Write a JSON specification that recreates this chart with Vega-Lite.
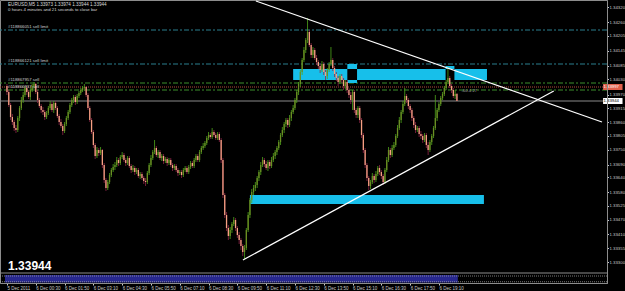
{
"$schema":"https://vega.github.io/schema/vega-lite/v6.json",
"width":607,"height":283,
"autosize":{"type":"none"},
"padding":{"left":0,"top":0,"right":18,"bottom":8},
"background":"#000000",
"config":{"view":{"stroke":"#8c8c8c","strokeWidth":1},"font":"Liberation Sans","axis":{"grid":false,"labelOverlap":false,"labelSeparation":0,"labelBound":false}},
"datasets":{
"panel":[{"x1":-1.093,"x2":250.5,"p1":1.33248,"p2":1.33218}],
"levels":[
{"kind":"sell limit","name":"#118866051 sell limit","p":1.34228},
{"kind":"sell limit","name":"#118866121 sell limit","p":1.34092},
{"kind":"sell","name":"#118867957 sell","p":1.34016},
{"kind":"sell","name":"#118866937 sell","p":1.33988},
{"kind":"ask","name":"","p":1.34000},
{"kind":"bid","name":"","p":1.33944},
{"kind":"sep","name":"","p":1.33256},
{"kind":"osc","name":"","p":1.33244},
{"kind":"osc","name":"","p":1.33221}
],
"zones":[
{"x1":159.0,"x2":189.1,"p1":1.34072,"p2":1.34028},
{"x1":189.1,"x2":194.5,"p1":1.34092,"p2":1.34072},
{"x1":189.1,"x2":194.5,"p1":1.34028,"p2":1.34016},
{"x1":194.5,"x2":243.7,"p1":1.34072,"p2":1.34028},
{"x1":243.7,"x2":248.6,"p1":1.34084,"p2":1.34072},
{"x1":248.6,"x2":266.7,"p1":1.34072,"p2":1.34028},
{"x1":135.0,"x2":265.0,"p1":1.33568,"p2":1.33532}
],
"trend":[
{"line":"down","i":138.3,"p":1.34344},{"line":"down","i":330.6,"p":1.33860},
{"line":"up","i":131.1,"p":1.33308},{"line":"up","i":303.8,"p":1.33984}
],
"tags":[
{"t":"1.33944","p":1.33944,"top":1.33956,"bot":1.33932,"kind":"bid"},
{"t":"1.33997","p":1.34000,"top":1.34012,"bot":1.33988,"kind":"ask"}
],
"candles":[
{"i":0,"o":1.34004,"h":1.34012,"l":1.33968,"c":1.3398},
{"i":1,"o":1.3398,"h":1.33988,"l":1.3392,"c":1.33928},
{"i":2,"o":1.33928,"h":1.33936,"l":1.33868,"c":1.3388},
{"i":3,"o":1.3388,"h":1.33892,"l":1.33848,"c":1.3386},
{"i":4,"o":1.3386,"h":1.33868,"l":1.33824,"c":1.33836},
{"i":5,"o":1.33836,"h":1.33848,"l":1.33816,"c":1.33828},
{"i":6,"o":1.33828,"h":1.33884,"l":1.3382,"c":1.33876},
{"i":7,"o":1.33876,"h":1.33924,"l":1.33864,"c":1.33916},
{"i":8,"o":1.33916,"h":1.3396,"l":1.33908,"c":1.33948},
{"i":9,"o":1.33948,"h":1.3398,"l":1.33936,"c":1.33968},
{"i":10,"o":1.33968,"h":1.34004,"l":1.3396,"c":1.33996},
{"i":11,"o":1.33996,"h":1.34004,"l":1.33968,"c":1.3398},
{"i":12,"o":1.3398,"h":1.33988,"l":1.33952,"c":1.3396},
{"i":13,"o":1.3396,"h":1.33996,"l":1.33948,"c":1.33988},
{"i":14,"o":1.33988,"h":1.34012,"l":1.3398,"c":1.34004},
{"i":15,"o":1.34004,"h":1.3402,"l":1.33992,"c":1.34012},
{"i":16,"o":1.34012,"h":1.34016,"l":1.33972,"c":1.3398},
{"i":17,"o":1.3398,"h":1.33988,"l":1.33936,"c":1.33948},
{"i":18,"o":1.33948,"h":1.33956,"l":1.33916,"c":1.33924},
{"i":19,"o":1.33924,"h":1.33932,"l":1.33896,"c":1.33908},
{"i":20,"o":1.33908,"h":1.3392,"l":1.33888,"c":1.339},
{"i":21,"o":1.339,"h":1.33908,"l":1.33868,"c":1.3388},
{"i":22,"o":1.3388,"h":1.33904,"l":1.33872,"c":1.33896},
{"i":23,"o":1.33896,"h":1.33924,"l":1.33888,"c":1.33916},
{"i":24,"o":1.33916,"h":1.33944,"l":1.33908,"c":1.33932},
{"i":25,"o":1.33932,"h":1.3394,"l":1.339,"c":1.33908},
{"i":26,"o":1.33908,"h":1.33944,"l":1.33896,"c":1.33936},
{"i":27,"o":1.33936,"h":1.33944,"l":1.33908,"c":1.33916},
{"i":28,"o":1.33916,"h":1.33924,"l":1.33876,"c":1.33884},
{"i":29,"o":1.33884,"h":1.33892,"l":1.33848,"c":1.3386},
{"i":30,"o":1.3386,"h":1.33872,"l":1.33836,"c":1.33844},
{"i":31,"o":1.33844,"h":1.33852,"l":1.33808,"c":1.33824},
{"i":32,"o":1.33824,"h":1.3386,"l":1.33816,"c":1.33852},
{"i":33,"o":1.33852,"h":1.33884,"l":1.33844,"c":1.33876},
{"i":34,"o":1.33876,"h":1.33908,"l":1.33868,"c":1.339},
{"i":35,"o":1.339,"h":1.33936,"l":1.33892,"c":1.33928},
{"i":36,"o":1.33928,"h":1.33956,"l":1.3392,"c":1.33948},
{"i":37,"o":1.33948,"h":1.33968,"l":1.33936,"c":1.3396},
{"i":38,"o":1.3396,"h":1.33968,"l":1.33928,"c":1.3394},
{"i":39,"o":1.3394,"h":1.33972,"l":1.33932,"c":1.33964},
{"i":40,"o":1.33964,"h":1.33984,"l":1.33956,"c":1.33976},
{"i":41,"o":1.33976,"h":1.33996,"l":1.33968,"c":1.33988},
{"i":42,"o":1.33988,"h":1.34004,"l":1.3398,"c":1.33996},
{"i":43,"o":1.33996,"h":1.34012,"l":1.33984,"c":1.34},
{"i":44,"o":1.34,"h":1.34004,"l":1.3396,"c":1.33968},
{"i":45,"o":1.33968,"h":1.33976,"l":1.33908,"c":1.33916},
{"i":46,"o":1.33916,"h":1.33924,"l":1.3386,"c":1.33868},
{"i":47,"o":1.33868,"h":1.33876,"l":1.33812,"c":1.3382},
{"i":48,"o":1.3382,"h":1.33828,"l":1.33756,"c":1.33768},
{"i":49,"o":1.33768,"h":1.33776,"l":1.33712,"c":1.33724},
{"i":50,"o":1.33724,"h":1.3376,"l":1.33716,"c":1.33748},
{"i":51,"o":1.33748,"h":1.33756,"l":1.33724,"c":1.33736},
{"i":52,"o":1.33736,"h":1.3376,"l":1.33728,"c":1.33748},
{"i":53,"o":1.33748,"h":1.33752,"l":1.33676,"c":1.33688},
{"i":54,"o":1.33688,"h":1.33696,"l":1.33616,"c":1.33628},
{"i":55,"o":1.33628,"h":1.33636,"l":1.33584,"c":1.33596},
{"i":56,"o":1.33596,"h":1.33628,"l":1.33588,"c":1.3362},
{"i":57,"o":1.3362,"h":1.33656,"l":1.33612,"c":1.33648},
{"i":58,"o":1.33648,"h":1.33676,"l":1.3364,"c":1.33668},
{"i":59,"o":1.33668,"h":1.33692,"l":1.3366,"c":1.3368},
{"i":60,"o":1.3368,"h":1.337,"l":1.33668,"c":1.33688},
{"i":61,"o":1.33688,"h":1.3372,"l":1.3368,"c":1.33708},
{"i":62,"o":1.33708,"h":1.33716,"l":1.33684,"c":1.33696},
{"i":63,"o":1.33696,"h":1.33728,"l":1.33688,"c":1.3372},
{"i":64,"o":1.3372,"h":1.3374,"l":1.33712,"c":1.33728},
{"i":65,"o":1.33728,"h":1.33736,"l":1.337,"c":1.33708},
{"i":66,"o":1.33708,"h":1.33716,"l":1.33684,"c":1.33696},
{"i":67,"o":1.33696,"h":1.33724,"l":1.33688,"c":1.33716},
{"i":68,"o":1.33716,"h":1.33724,"l":1.33676,"c":1.33684},
{"i":69,"o":1.33684,"h":1.33692,"l":1.33656,"c":1.33668},
{"i":70,"o":1.33668,"h":1.33688,"l":1.3366,"c":1.33676},
{"i":71,"o":1.33676,"h":1.33684,"l":1.33648,"c":1.3366},
{"i":72,"o":1.3366,"h":1.33676,"l":1.33652,"c":1.33668},
{"i":73,"o":1.33668,"h":1.33676,"l":1.33636,"c":1.33644},
{"i":74,"o":1.33644,"h":1.3366,"l":1.33632,"c":1.33652},
{"i":75,"o":1.33652,"h":1.3366,"l":1.33628,"c":1.33636},
{"i":76,"o":1.33636,"h":1.33644,"l":1.33612,"c":1.33624},
{"i":77,"o":1.33624,"h":1.33636,"l":1.33604,"c":1.3362},
{"i":78,"o":1.3362,"h":1.33664,"l":1.33612,"c":1.33656},
{"i":79,"o":1.33656,"h":1.33696,"l":1.33648,"c":1.33688},
{"i":80,"o":1.33688,"h":1.33728,"l":1.3368,"c":1.33716},
{"i":81,"o":1.33716,"h":1.33748,"l":1.33708,"c":1.3374},
{"i":82,"o":1.3374,"h":1.33788,"l":1.33732,"c":1.33756},
{"i":83,"o":1.33756,"h":1.33764,"l":1.3372,"c":1.33728},
{"i":84,"o":1.33728,"h":1.33748,"l":1.33716,"c":1.3374},
{"i":85,"o":1.3374,"h":1.33748,"l":1.33708,"c":1.33716},
{"i":86,"o":1.33716,"h":1.33732,"l":1.33704,"c":1.33724},
{"i":87,"o":1.33724,"h":1.33732,"l":1.33692,"c":1.33704},
{"i":88,"o":1.33704,"h":1.3372,"l":1.33696,"c":1.33712},
{"i":89,"o":1.33712,"h":1.3372,"l":1.33684,"c":1.33696},
{"i":90,"o":1.33696,"h":1.33716,"l":1.33688,"c":1.33708},
{"i":91,"o":1.33708,"h":1.33716,"l":1.3368,"c":1.33688},
{"i":92,"o":1.33688,"h":1.33696,"l":1.33664,"c":1.33676},
{"i":93,"o":1.33676,"h":1.33692,"l":1.33668,"c":1.33684},
{"i":94,"o":1.33684,"h":1.33692,"l":1.3366,"c":1.33668},
{"i":95,"o":1.33668,"h":1.33676,"l":1.33644,"c":1.33656},
{"i":96,"o":1.33656,"h":1.33668,"l":1.33648,"c":1.3366},
{"i":97,"o":1.3366,"h":1.33668,"l":1.33636,"c":1.33648},
{"i":98,"o":1.33648,"h":1.33676,"l":1.3364,"c":1.33668},
{"i":99,"o":1.33668,"h":1.33684,"l":1.3366,"c":1.33676},
{"i":100,"o":1.33676,"h":1.33684,"l":1.33652,"c":1.3366},
{"i":101,"o":1.3366,"h":1.33688,"l":1.33652,"c":1.3368},
{"i":102,"o":1.3368,"h":1.33704,"l":1.33672,"c":1.33696},
{"i":103,"o":1.33696,"h":1.33704,"l":1.33676,"c":1.33684},
{"i":104,"o":1.33684,"h":1.33716,"l":1.33676,"c":1.33708},
{"i":105,"o":1.33708,"h":1.33732,"l":1.337,"c":1.33724},
{"i":106,"o":1.33724,"h":1.33732,"l":1.337,"c":1.33708},
{"i":107,"o":1.33708,"h":1.33748,"l":1.337,"c":1.3374},
{"i":108,"o":1.3374,"h":1.33764,"l":1.33732,"c":1.33756},
{"i":109,"o":1.33756,"h":1.33776,"l":1.33748,"c":1.33764},
{"i":110,"o":1.33764,"h":1.33784,"l":1.33756,"c":1.33776},
{"i":111,"o":1.33776,"h":1.33804,"l":1.33768,"c":1.33796},
{"i":112,"o":1.33796,"h":1.3382,"l":1.33788,"c":1.33808},
{"i":113,"o":1.33808,"h":1.33816,"l":1.33792,"c":1.338},
{"i":114,"o":1.338,"h":1.33836,"l":1.33792,"c":1.3382},
{"i":115,"o":1.3382,"h":1.33828,"l":1.338,"c":1.33808},
{"i":116,"o":1.33808,"h":1.33816,"l":1.33788,"c":1.33796},
{"i":117,"o":1.33796,"h":1.3382,"l":1.33788,"c":1.33812},
{"i":118,"o":1.33812,"h":1.3382,"l":1.3378,"c":1.33788},
{"i":119,"o":1.33788,"h":1.33796,"l":1.33696,"c":1.33708},
{"i":120,"o":1.33708,"h":1.33716,"l":1.33556,"c":1.33568},
{"i":121,"o":1.33568,"h":1.33576,"l":1.33476,"c":1.33488},
{"i":122,"o":1.33488,"h":1.335,"l":1.33424,"c":1.33436},
{"i":123,"o":1.33436,"h":1.33448,"l":1.33388,"c":1.33404},
{"i":124,"o":1.33404,"h":1.3344,"l":1.33392,"c":1.33428},
{"i":125,"o":1.33428,"h":1.3346,"l":1.33416,"c":1.33452},
{"i":126,"o":1.33452,"h":1.3348,"l":1.33444,"c":1.33468},
{"i":127,"o":1.33468,"h":1.33476,"l":1.33424,"c":1.33436},
{"i":128,"o":1.33436,"h":1.33444,"l":1.33396,"c":1.33408},
{"i":129,"o":1.33408,"h":1.3342,"l":1.33372,"c":1.33388},
{"i":130,"o":1.33388,"h":1.33396,"l":1.33348,"c":1.33364},
{"i":131,"o":1.33364,"h":1.33372,"l":1.33324,"c":1.3334},
{"i":132,"o":1.3334,"h":1.33368,"l":1.33312,"c":1.33356},
{"i":133,"o":1.33356,"h":1.33436,"l":1.33348,"c":1.33428},
{"i":134,"o":1.33428,"h":1.335,"l":1.3342,"c":1.33488},
{"i":135,"o":1.33488,"h":1.33556,"l":1.33476,"c":1.33548},
{"i":136,"o":1.33548,"h":1.33592,"l":1.33536,"c":1.3358},
{"i":137,"o":1.3358,"h":1.33608,"l":1.33568,"c":1.33596},
{"i":138,"o":1.33596,"h":1.3362,"l":1.33584,"c":1.33608},
{"i":139,"o":1.33608,"h":1.33644,"l":1.33596,"c":1.33636},
{"i":140,"o":1.33636,"h":1.33668,"l":1.33624,"c":1.3366},
{"i":141,"o":1.3366,"h":1.337,"l":1.33648,"c":1.33688},
{"i":142,"o":1.33688,"h":1.3372,"l":1.3368,"c":1.33708},
{"i":143,"o":1.33708,"h":1.33716,"l":1.3368,"c":1.33692},
{"i":144,"o":1.33692,"h":1.33704,"l":1.33668,"c":1.33676},
{"i":145,"o":1.33676,"h":1.33708,"l":1.33664,"c":1.337},
{"i":146,"o":1.337,"h":1.33708,"l":1.33672,"c":1.33684},
{"i":147,"o":1.33684,"h":1.3372,"l":1.33676,"c":1.33708},
{"i":148,"o":1.33708,"h":1.33736,"l":1.337,"c":1.33724},
{"i":149,"o":1.33724,"h":1.33748,"l":1.33712,"c":1.3374},
{"i":150,"o":1.3374,"h":1.33764,"l":1.33728,"c":1.33756},
{"i":151,"o":1.33756,"h":1.33788,"l":1.33748,"c":1.3378},
{"i":152,"o":1.3378,"h":1.33816,"l":1.33768,"c":1.33808},
{"i":153,"o":1.33808,"h":1.3384,"l":1.338,"c":1.33828},
{"i":154,"o":1.33828,"h":1.3386,"l":1.33816,"c":1.33852},
{"i":155,"o":1.33852,"h":1.33876,"l":1.3384,"c":1.33868},
{"i":156,"o":1.33868,"h":1.33876,"l":1.33836,"c":1.33848},
{"i":157,"o":1.33848,"h":1.33888,"l":1.3384,"c":1.33876},
{"i":158,"o":1.33876,"h":1.33908,"l":1.33864,"c":1.339},
{"i":159,"o":1.339,"h":1.33928,"l":1.33892,"c":1.33916},
{"i":160,"o":1.33916,"h":1.33956,"l":1.33908,"c":1.33948},
{"i":161,"o":1.33948,"h":1.33988,"l":1.33936,"c":1.3398},
{"i":162,"o":1.3398,"h":1.3402,"l":1.33968,"c":1.34012},
{"i":163,"o":1.34012,"h":1.34068,"l":1.34,"c":1.3406},
{"i":164,"o":1.3406,"h":1.34116,"l":1.34048,"c":1.34108},
{"i":165,"o":1.34108,"h":1.3416,"l":1.341,"c":1.34148},
{"i":166,"o":1.34148,"h":1.34196,"l":1.34136,"c":1.34188},
{"i":167,"o":1.34188,"h":1.34276,"l":1.34176,"c":1.3422},
{"i":168,"o":1.3422,"h":1.34228,"l":1.3416,"c":1.34168},
{"i":169,"o":1.34168,"h":1.34176,"l":1.34116,"c":1.34128},
{"i":170,"o":1.34128,"h":1.3416,"l":1.34116,"c":1.34148},
{"i":171,"o":1.34148,"h":1.34156,"l":1.34108,"c":1.34116},
{"i":172,"o":1.34116,"h":1.34128,"l":1.34088,"c":1.341},
{"i":173,"o":1.341,"h":1.34108,"l":1.34072,"c":1.34084},
{"i":174,"o":1.34084,"h":1.34092,"l":1.34056,"c":1.34068},
{"i":175,"o":1.34068,"h":1.34104,"l":1.3406,"c":1.34092},
{"i":176,"o":1.34092,"h":1.341,"l":1.34048,"c":1.3406},
{"i":177,"o":1.3406,"h":1.34068,"l":1.34028,"c":1.34044},
{"i":178,"o":1.34044,"h":1.34076,"l":1.34032,"c":1.34068},
{"i":179,"o":1.34068,"h":1.341,"l":1.3406,"c":1.34092},
{"i":180,"o":1.34092,"h":1.3416,"l":1.34084,"c":1.34108},
{"i":181,"o":1.34108,"h":1.34116,"l":1.34064,"c":1.34076},
{"i":182,"o":1.34076,"h":1.34084,"l":1.3404,"c":1.34052},
{"i":183,"o":1.34052,"h":1.3406,"l":1.34024,"c":1.34036},
{"i":184,"o":1.34036,"h":1.34044,"l":1.34004,"c":1.3402},
{"i":185,"o":1.3402,"h":1.34052,"l":1.34012,"c":1.34044},
{"i":186,"o":1.34044,"h":1.34052,"l":1.34016,"c":1.34028},
{"i":187,"o":1.34028,"h":1.34036,"l":1.33988,"c":1.34004},
{"i":188,"o":1.34004,"h":1.34028,"l":1.33992,"c":1.3402},
{"i":189,"o":1.3402,"h":1.34028,"l":1.33976,"c":1.33988},
{"i":190,"o":1.33988,"h":1.33996,"l":1.33956,"c":1.33968},
{"i":191,"o":1.33968,"h":1.3398,"l":1.33932,"c":1.33948},
{"i":192,"o":1.33948,"h":1.33988,"l":1.33908,"c":1.3398},
{"i":193,"o":1.3398,"h":1.33988,"l":1.33896,"c":1.33908},
{"i":194,"o":1.33908,"h":1.33916,"l":1.33876,"c":1.33888},
{"i":195,"o":1.33888,"h":1.33924,"l":1.33876,"c":1.33916},
{"i":196,"o":1.33916,"h":1.33924,"l":1.33856,"c":1.33868},
{"i":197,"o":1.33868,"h":1.33876,"l":1.33796,"c":1.33808},
{"i":198,"o":1.33808,"h":1.33816,"l":1.33736,"c":1.33748},
{"i":199,"o":1.33748,"h":1.33756,"l":1.33676,"c":1.33688},
{"i":200,"o":1.33688,"h":1.33696,"l":1.33624,"c":1.33636},
{"i":201,"o":1.33636,"h":1.33644,"l":1.33588,"c":1.33604},
{"i":202,"o":1.33604,"h":1.33628,"l":1.33592,"c":1.3362},
{"i":203,"o":1.3362,"h":1.33656,"l":1.33612,"c":1.33644},
{"i":204,"o":1.33644,"h":1.33652,"l":1.33616,"c":1.33628},
{"i":205,"o":1.33628,"h":1.33664,"l":1.3362,"c":1.33652},
{"i":206,"o":1.33652,"h":1.33684,"l":1.33644,"c":1.33676},
{"i":207,"o":1.33676,"h":1.33688,"l":1.33648,"c":1.3366},
{"i":208,"o":1.3366,"h":1.33668,"l":1.33632,"c":1.33644},
{"i":209,"o":1.33644,"h":1.33652,"l":1.33608,"c":1.3362},
{"i":210,"o":1.3362,"h":1.33676,"l":1.33612,"c":1.33668},
{"i":211,"o":1.33668,"h":1.3372,"l":1.3366,"c":1.33708},
{"i":212,"o":1.33708,"h":1.3376,"l":1.337,"c":1.33748},
{"i":213,"o":1.33748,"h":1.33756,"l":1.33716,"c":1.33728},
{"i":214,"o":1.33728,"h":1.33768,"l":1.3372,"c":1.33756},
{"i":215,"o":1.33756,"h":1.3378,"l":1.33748,"c":1.33768},
{"i":216,"o":1.33768,"h":1.33812,"l":1.3376,"c":1.33804},
{"i":217,"o":1.33804,"h":1.33848,"l":1.33796,"c":1.33836},
{"i":218,"o":1.33836,"h":1.3388,"l":1.33828,"c":1.33868},
{"i":219,"o":1.33868,"h":1.33908,"l":1.33856,"c":1.339},
{"i":220,"o":1.339,"h":1.33944,"l":1.33892,"c":1.33932},
{"i":221,"o":1.33932,"h":1.33996,"l":1.33924,"c":1.33964},
{"i":222,"o":1.33964,"h":1.33972,"l":1.33936,"c":1.33948},
{"i":223,"o":1.33948,"h":1.33956,"l":1.33912,"c":1.33924},
{"i":224,"o":1.33924,"h":1.33932,"l":1.33896,"c":1.33908},
{"i":225,"o":1.33908,"h":1.33916,"l":1.33864,"c":1.33876},
{"i":226,"o":1.33876,"h":1.33884,"l":1.33836,"c":1.33848},
{"i":227,"o":1.33848,"h":1.3386,"l":1.33816,"c":1.33828},
{"i":228,"o":1.33828,"h":1.33844,"l":1.3382,"c":1.33836},
{"i":229,"o":1.33836,"h":1.33844,"l":1.338,"c":1.33812},
{"i":230,"o":1.33812,"h":1.33824,"l":1.33792,"c":1.33804},
{"i":231,"o":1.33804,"h":1.33812,"l":1.33776,"c":1.33788},
{"i":232,"o":1.33788,"h":1.33816,"l":1.3378,"c":1.33808},
{"i":233,"o":1.33808,"h":1.33816,"l":1.33756,"c":1.33768},
{"i":234,"o":1.33768,"h":1.3378,"l":1.33728,"c":1.33748},
{"i":235,"o":1.33748,"h":1.33788,"l":1.3374,"c":1.3378},
{"i":236,"o":1.3378,"h":1.33812,"l":1.33768,"c":1.33804},
{"i":237,"o":1.33804,"h":1.33844,"l":1.33796,"c":1.33836},
{"i":238,"o":1.33836,"h":1.33968,"l":1.33828,"c":1.33876},
{"i":239,"o":1.33876,"h":1.33916,"l":1.33864,"c":1.33908},
{"i":240,"o":1.33908,"h":1.3394,"l":1.339,"c":1.33932},
{"i":241,"o":1.33932,"h":1.33964,"l":1.33924,"c":1.33956},
{"i":242,"o":1.33956,"h":1.3398,"l":1.33948,"c":1.33972},
{"i":243,"o":1.33972,"h":1.34004,"l":1.33964,"c":1.33996},
{"i":244,"o":1.33996,"h":1.34028,"l":1.33988,"c":1.3402},
{"i":245,"o":1.3402,"h":1.3408,"l":1.34012,"c":1.34036},
{"i":246,"o":1.34036,"h":1.34044,"l":1.33996,"c":1.34004},
{"i":247,"o":1.34004,"h":1.34012,"l":1.33976,"c":1.33988},
{"i":248,"o":1.33988,"h":1.33996,"l":1.33956,"c":1.33964},
{"i":249,"o":1.33964,"h":1.33988,"l":1.33952,"c":1.33972},
{"i":250,"o":1.33973,"h":1.33974,"l":1.33944,"c":1.33944}
]
},
"layer":[
{"data":{"name":"panel"},"mark":{"type":"rect","color":"#28288e"},
 "encoding":{
  "x":{"field":"x1","type":"quantitative","title":null,"scale":{"domain":[-1.093,330.6],"nice":false,"zero":false},
   "axis":{"orient":"bottom","values":[0,16,32,48,64,80,96,112,128,144,160,176,192,208,224,240],"tickCount":40,
    "labelExpr":"['5 Dec 2011','6 Dec 00:30','6 Dec 01:50','6 Dec 03:10','6 Dec 04:30','6 Dec 05:50','6 Dec 07:10','6 Dec 08:30','6 Dec 09:50','6 Dec 11:10','6 Dec 12:30','6 Dec 13:50','6 Dec 15:10','6 Dec 16:30','6 Dec 17:50','6 Dec 19:10'][round(datum.value/16)]",
    "labelAlign":"left","labelBaseline":"top","labelFontSize":4.5,"labelColor":"#c8c8c8","labelPadding":0,"tickSize":2,"tickColor":"#c8c8c8","domainColor":"#8c8c8c","title":null,"grid":false,"labelOverlap":false,"labelFlush":false,"zindex":2}},
  "x2":{"field":"x2"},
  "y":{"field":"p1","type":"quantitative","title":null,"scale":{"domain":[1.33216,1.34348],"nice":false,"zero":false},
   "axis":{"orient":"right","values":[1.3432,1.3426,1.34205,1.34145,1.34085,1.3403,1.3397,1.33915,1.3386,1.33805,1.3375,1.3369,1.3364,1.3358,1.33525,1.3347,1.3341,1.33355,1.333],"tickCount":40,
    "labelExpr":"format(datum.value, '.5f')","labelFontSize":4.3,"labelColor":"#c8c8c8","labelPadding":0.5,"tickSize":1.5,"tickColor":"#c8c8c8","domainColor":"#8c8c8c","title":null,"grid":false,"labelOverlap":false,"labelSeparation":0,"labelFlush":false,"labelBound":false,"zindex":2}},
  "y2":{"field":"p2"}}},
{"data":{"name":"levels"},"transform":[{"filter":"datum.kind == 'osc'"}],"mark":{"type":"rule","color":"#b0b0b0","strokeWidth":0.7,"strokeDash":[1,1]},
 "encoding":{"y":{"field":"p","type":"quantitative","title":null,"scale":{"domain":[1.33216,1.34348],"nice":false,"zero":false}}}},
{"data":{"name":"levels"},"transform":[{"filter":"datum.kind == 'sep'"}],"mark":{"type":"rule","color":"#8c8c8c","strokeWidth":1},
 "encoding":{"y":{"field":"p","type":"quantitative","title":null,"scale":{"domain":[1.33216,1.34348],"nice":false,"zero":false}}}},
{"data":{"name":"levels"},"transform":[{"filter":"datum.kind == 'sell limit'"}],"mark":{"type":"rule","color":"#2b7f8e","strokeWidth":1,"strokeDash":[5,2,2,2]},
 "encoding":{"y":{"field":"p","type":"quantitative","title":null,"scale":{"domain":[1.33216,1.34348],"nice":false,"zero":false}}}},
{"data":{"name":"levels"},"transform":[{"filter":"datum.kind == 'sell'"}],"mark":{"type":"rule","color":"#3c8f2c","strokeWidth":1,"strokeDash":[5,2,2,2]},
 "encoding":{"y":{"field":"p","type":"quantitative","title":null,"scale":{"domain":[1.33216,1.34348],"nice":false,"zero":false}}}},
{"data":{"name":"levels"},"transform":[{"filter":"datum.kind == 'ask'"}],"mark":{"type":"rule","color":"#b04a3a","strokeWidth":1,"strokeDash":[1,1]},
 "encoding":{"y":{"field":"p","type":"quantitative","title":null,"scale":{"domain":[1.33216,1.34348],"nice":false,"zero":false}}}},
{"data":{"name":"levels"},"transform":[{"filter":"datum.kind == 'bid'"}],"mark":{"type":"rule","color":"#8a8a8a","strokeWidth":1},
 "encoding":{"y":{"field":"p","type":"quantitative","title":null,"scale":{"domain":[1.33216,1.34348],"nice":false,"zero":false}}}},
{"data":{"name":"zones"},"mark":{"type":"rect","color":"#17bfea"},
 "encoding":{
  "x":{"field":"x1","type":"quantitative","title":null,"scale":{"domain":[-1.093,330.6],"nice":false,"zero":false}},"x2":{"field":"x2"},
  "y":{"field":"p1","type":"quantitative","title":null,"scale":{"domain":[1.33216,1.34348],"nice":false,"zero":false}},"y2":{"field":"p2"}}},
{"data":{"name":"candles"},"mark":{"type":"rule","strokeWidth":0.8},
 "encoding":{
  "x":{"field":"i","type":"quantitative","title":null,"scale":{"domain":[-1.093,330.6],"nice":false,"zero":false}},
  "y":{"field":"l","type":"quantitative","title":null,"scale":{"domain":[1.33216,1.34348],"nice":false,"zero":false}},"y2":{"field":"h"},
  "color":{"condition":{"test":"datum.c >= datum.o","value":"#4fa61c"},"value":"#8e2448"}}},
{"data":{"name":"candles"},"mark":{"type":"bar","size":1.3},
 "encoding":{
  "x":{"field":"i","type":"quantitative","title":null,"scale":{"domain":[-1.093,330.6],"nice":false,"zero":false}},
  "y":{"field":"o","type":"quantitative","title":null,"scale":{"domain":[1.33216,1.34348],"nice":false,"zero":false}},
  "y2":{"field":"c"},
  "color":{"condition":{"test":"datum.c >= datum.o","value":"#6b8e23"},"value":"#f6a083"}}},
{"data":{"name":"trend"},"mark":{"type":"line","color":"#ffffff","strokeWidth":1.2},
 "encoding":{
  "x":{"field":"i","type":"quantitative","title":null,"scale":{"domain":[-1.093,330.6],"nice":false,"zero":false}},
  "y":{"field":"p","type":"quantitative","title":null,"scale":{"domain":[1.33216,1.34348],"nice":false,"zero":false}},
  "detail":{"field":"line"}}},
{"data":{"name":"levels"},"transform":[{"filter":"datum.name != ''"}],"mark":{"type":"text","align":"left","baseline":"middle","dy":-3,"fontSize":4.3,"color":"#cfcfcf"},
 "encoding":{
  "x":{"datum":0.6,"type":"quantitative","title":null,"scale":{"domain":[-1.093,330.6],"nice":false,"zero":false}},
  "y":{"field":"p","type":"quantitative","title":null,"scale":{"domain":[1.33216,1.34348],"nice":false,"zero":false}},
  "text":{"field":"name"}}},
{"data":{"values":[{"t":"EURUSD,M5  1.33973 1.33974 1.33944 1.33944"}]},"mark":{"type":"text","align":"left","baseline":"middle","fontSize":4.6,"color":"#d8d8d8"},
 "encoding":{
  "x":{"datum":0.6,"type":"quantitative","title":null,"scale":{"domain":[-1.093,330.6],"nice":false,"zero":false}},
  "y":{"datum":1.34328,"type":"quantitative","title":null,"scale":{"domain":[1.33216,1.34348],"nice":false,"zero":false}},
  "text":{"field":"t"}}},
{"data":{"values":[{"t":"0 hours 4 minutes and 21 seconds to close bar"}]},"mark":{"type":"text","align":"left","baseline":"middle","fontSize":4.3,"color":"#d8d8d8"},
 "encoding":{
  "x":{"datum":0.6,"type":"quantitative","title":null,"scale":{"domain":[-1.093,330.6],"nice":false,"zero":false}},
  "y":{"datum":1.34308,"type":"quantitative","title":null,"scale":{"domain":[1.33216,1.34348],"nice":false,"zero":false}},
  "text":{"field":"t"}}},
{"data":{"values":[{"t":"1.33944"}]},"mark":{"type":"text","align":"left","baseline":"alphabetic","fontSize":12,"fontWeight":"bold","color":"#ffffff"},
 "encoding":{
  "x":{"datum":0.6,"type":"quantitative","title":null,"scale":{"domain":[-1.093,330.6],"nice":false,"zero":false}},
  "y":{"datum":1.33268,"type":"quantitative","title":null,"scale":{"domain":[1.33216,1.34348],"nice":false,"zero":false}},
  "text":{"field":"t"}}},
{"data":{"values":[{"t":"-60.4.27"}]},"mark":{"type":"text","align":"left","baseline":"middle","fontSize":4.3,"color":"#a0a0a0"},
 "encoding":{
  "x":{"datum":252.5,"type":"quantitative","title":null,"scale":{"domain":[-1.093,330.6],"nice":false,"zero":false}},
  "y":{"datum":1.33984,"type":"quantitative","title":null,"scale":{"domain":[1.33216,1.34348],"nice":false,"zero":false}},
  "text":{"field":"t"}}},
{"data":{"name":"tags"},"mark":{"type":"rect"},
 "encoding":{
  "x":{"datum":331.2,"type":"quantitative","title":null,"scale":{"domain":[-1.093,330.6],"nice":false,"zero":false}},
  "x2":{"datum":342},
  "y":{"field":"top","type":"quantitative","title":null,"scale":{"domain":[1.33216,1.34348],"nice":false,"zero":false}},
  "y2":{"field":"bot"},
  "color":{"condition":{"test":"datum.kind == 'bid'","value":"#ffffff"},"value":"#e0604c"}}},
{"data":{"name":"tags"},"mark":{"type":"text","align":"left","baseline":"middle","fontSize":4.3},
 "encoding":{
  "x":{"datum":331.4,"type":"quantitative","title":null,"scale":{"domain":[-1.093,330.6],"nice":false,"zero":false}},
  "y":{"field":"p","type":"quantitative","title":null,"scale":{"domain":[1.33216,1.34348],"nice":false,"zero":false}},
  "text":{"field":"t"},
  "color":{"condition":{"test":"datum.kind == 'bid'","value":"#000000"},"value":"#ffffff"}}}
]
}
